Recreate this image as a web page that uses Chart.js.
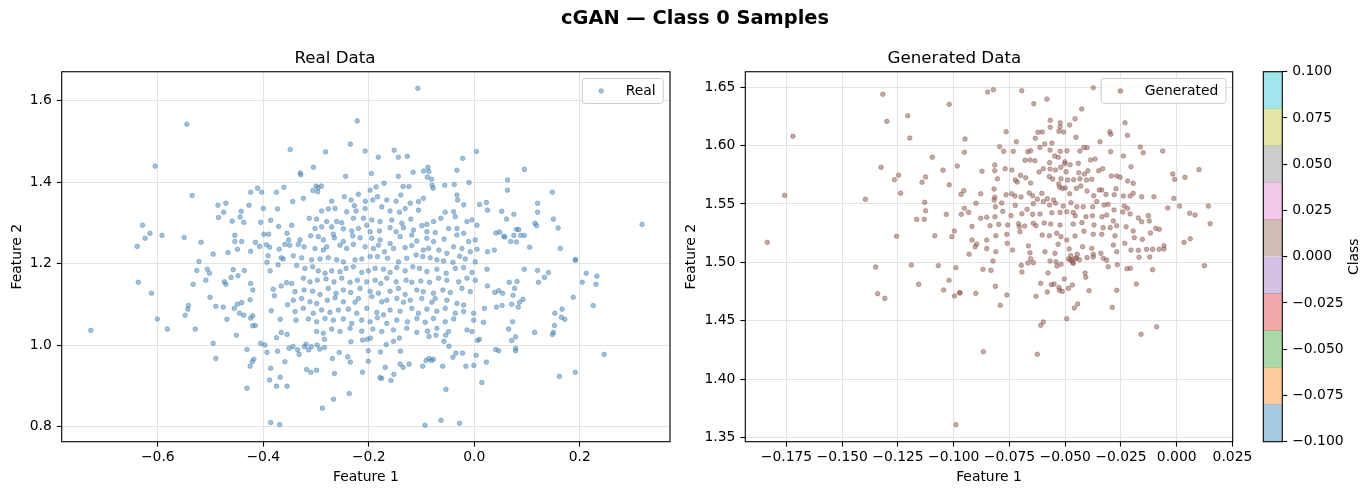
<!DOCTYPE html>
<html>
<head>
<meta charset="utf-8">
<script src="https://cdn.jsdelivr.net/npm/chart.js@4.4.1/dist/chart.umd.min.js"></script>
<style>
  html, body { margin: 0; padding: 0; background: #fff; }
  body { width: 1371px; height: 495px; position: relative; overflow: hidden; font-family: "DejaVu Sans", sans-serif; }
  canvas { position: absolute; top: 0; }
  #suptitle { position: absolute; left: 0; top: 6.3px; width: 1390px; text-align: center;
              font: bold 19.4px/24px "DejaVu Sans", sans-serif; color: #000; z-index: 2; }
</style>
</head>
<body>
<div id="suptitle">cGAN — Class 0 Samples</div>
<canvas id="real" width="676" height="495" style="left:0px"></canvas>
<canvas id="gen" width="580" height="495" style="left:676px"></canvas>
<canvas id="cbar" width="115" height="495" style="left:1256px"></canvas>
<script>
// ---- data ----
// Real Data panel: [Feature 1, Feature 2]
const realPoints = [
  // upper left
  [-0.545,1.542],[-0.605,1.439],[-0.222,1.550],[-0.349,1.480],[-0.282,1.474],[-0.235,1.493],[-0.207,1.476],
  [-0.535,1.367],[-0.330,1.422],[-0.329,1.418],[-0.305,1.436],[-0.244,1.414],[-0.300,1.390],[-0.296,1.386],
  [-0.306,1.379],[-0.297,1.376],[-0.290,1.390],[-0.361,1.387],[-0.375,1.375],[-0.411,1.385],[-0.403,1.375],
  [-0.424,1.375],[-0.486,1.343],[-0.471,1.348],[-0.475,1.326],[-0.485,1.313],[-0.459,1.304],[-0.444,1.314],
  [-0.442,1.328],[-0.437,1.301],[-0.427,1.343],[-0.405,1.301],[-0.400,1.335],[-0.386,1.306],[-0.373,1.334],
  [-0.629,1.294],[-0.615,1.274],[-0.624,1.262],[-0.639,1.242],[-0.592,1.269],[-0.550,1.264],[-0.518,1.252],
  [-0.495,1.223],[-0.467,1.227],[-0.454,1.269],[-0.454,1.254],[-0.441,1.254],[-0.449,1.235],[-0.415,1.252],
  [-0.424,1.230],[-0.407,1.242],[-0.399,1.272],[-0.390,1.272],[-0.394,1.246],[-0.388,1.240],[-0.371,1.291],
  [-0.355,1.274],[-0.352,1.258],[-0.359,1.247],[-0.350,1.245],[-0.370,1.235],[-0.391,1.219],[-0.366,1.214],
  // upper right
  [-0.107,1.630],[-0.182,1.461],[-0.152,1.478],[-0.144,1.461],[-0.127,1.463],[-0.022,1.458],[0.004,1.475],
  [-0.195,1.421],[-0.116,1.424],[-0.096,1.427],[-0.088,1.436],[-0.086,1.426],[-0.089,1.412],[-0.081,1.407],
  [-0.033,1.429],[-0.144,1.414],[-0.171,1.397],[-0.135,1.389],[-0.124,1.389],[-0.080,1.392],[-0.078,1.385],
  [-0.056,1.392],[-0.038,1.394],[-0.010,1.399],[0.095,1.431],[0.063,1.405],[0.063,1.380],[0.148,1.375],
  [0.318,1.296],[0.010,1.345],[0.023,1.350],[0.025,1.331],[0.052,1.328],[0.075,1.321],[0.061,1.309],
  [0.120,1.348],[0.120,1.326],[0.115,1.299],[0.118,1.293],[0.150,1.309],[0.159,1.287],[0.095,1.269],
  [0.080,1.284],[0.084,1.283],[0.075,1.269],[0.088,1.269],[0.080,1.253],[0.069,1.254],[0.041,1.275],
  [0.048,1.277],[0.056,1.267],[0.058,1.265],[0.163,1.237],[0.105,1.240],[0.192,1.210],[0.025,1.229],
  [0.038,1.233],[0.024,1.186],[0.025,1.145],
  // lower left
  [-0.727,1.036],[-0.637,1.154],[-0.612,1.127],[-0.601,1.064],[-0.582,1.039],[-0.548,1.073],[-0.543,1.088],
  [-0.542,1.097],[-0.529,1.039],[-0.533,1.149],[-0.526,1.183],[-0.522,1.205],[-0.509,1.159],[-0.506,1.186],
  [-0.502,1.176],[-0.501,1.117],[-0.490,1.095],[-0.476,1.093],[-0.469,1.063],[-0.451,1.024],[-0.495,1.004],
  [-0.490,0.967],[-0.474,1.155],[-0.471,1.149],[-0.461,1.166],[-0.457,1.185],[-0.448,1.170],[-0.436,1.183],
  [-0.455,1.090],[-0.449,1.100],[-0.441,1.104],[-0.445,1.078],[-0.437,1.073],[-0.425,1.111],[-0.424,1.151],
  [-0.420,1.135],[-0.420,1.072],[-0.424,1.066],[-0.420,1.047],[-0.415,1.048],[-0.431,0.989],[-0.421,0.959],
  [-0.425,0.948],[-0.418,0.965],[-0.431,0.894],[-0.405,1.004],[-0.397,1.000],[-0.393,0.982],[-0.386,0.943],
  [-0.388,0.914],[-0.375,0.899],[-0.373,0.985],[-0.368,0.921],[-0.355,0.899],[-0.386,0.810],[-0.369,0.805],
  [-0.366,1.031],[-0.355,1.026],[-0.359,0.959],[-0.375,1.018],[-0.351,0.992],[-0.344,0.996],[-0.335,0.988],
  [-0.332,0.977],[-0.322,0.996],[-0.319,1.002],[-0.314,0.988],[-0.318,0.940],[-0.310,0.933],[-0.299,0.938],
  [-0.309,0.996],[-0.298,1.000],[-0.293,0.990],[-0.284,0.994],[-0.284,1.014],[-0.256,0.982],[-0.265,0.930],
  [-0.269,0.967],[-0.240,0.971],[-0.235,0.958],[-0.237,0.881],[-0.267,0.867],[-0.288,0.845],[-0.212,0.933],
  [-0.201,0.960],[-0.201,0.986],[-0.234,1.008],[-0.212,1.012],[-0.203,1.014],
  [-0.387,1.182],[-0.381,1.137],[-0.366,1.145],[-0.356,1.153],[-0.393,1.203],[-0.372,1.197],[-0.362,1.211],
  [-0.385,1.084],[-0.368,1.063],[-0.354,1.099],[-0.379,1.121],
  // lower right
  [0.1915,1.208],[0.2123,1.176],[0.2325,1.169],[0.2306,1.149],[0.2047,1.154],[0.1877,1.117],[0.2255,1.097],
  [0.1715,1.063],[0.1651,1.068],[0.1526,1.078],[0.1664,1.088],[0.1519,1.048],[0.1481,1.026],[0.150,1.031],
  [0.1142,1.031],[0.2462,0.977],[0.1915,0.933],[0.1613,0.923],[0.1406,1.178],[0.133,1.166],[0.1217,1.154],
  [0.1198,1.183],[0.0947,1.186],[0.081,1.156],[0.0764,1.139],[0.0664,1.154],[0.0462,1.133],[0.0538,1.127],
  [0.0387,1.129],[0.0419,1.093],[0.0526,1.097],[0.0708,1.100],[0.0734,1.122],[0.0859,1.105],[0.0923,1.112],
  [0.0834,1.093],[0.0726,1.057],[0.0651,1.039],[0.0783,1.020],[0.0708,1.011],[0.0783,0.992],[0.0783,0.986],
  [0.0406,0.989],[0.0462,0.986],[0.0192,1.090],[0.0174,1.056],[0.006,1.011],[0.0098,1.014],[0.0036,0.975],
  [-0.0009,0.950],[0.023,0.958],[0.0142,0.908],[-0.0279,0.808],[-0.0632,0.815],[-0.0934,0.803],[-0.0538,0.891],
  [-0.0858,0.967],[-0.0813,0.962],[-0.0915,0.962],[-0.0776,0.965],[-0.060,0.948],[-0.0977,0.948],[-0.1236,0.953],
  [-0.1406,0.953],[-0.1349,0.945],[-0.1525,0.928],[-0.1581,0.913],[-0.1789,0.920],[-0.1757,0.918],[-0.1689,0.945],
  [-0.0406,0.970],[-0.0349,0.980],[-0.0223,0.980],[-0.016,0.948],[-0.0575,1.009],[-0.0543,1.024],[-0.0481,0.997],
  [-0.0858,1.021],[-0.0726,1.024],[-0.167,1.001],[-0.153,1.009],[-0.178,0.983],[-0.140,0.985],[-0.197,1.017],
  [-0.142,1.017],
  // dense core
  [-0.1975,1.380],[-0.1861,1.388],
  [-0.3443,1.352],[-0.3241,1.360],[-0.2704,1.353],[-0.2463,1.364],[-0.2336,1.356],[-0.2197,1.370],[-0.2064,1.353],
  [-0.1925,1.356],[-0.1836,1.364],[-0.1659,1.356],[-0.1482,1.353],[-0.1393,1.368],[-0.1216,1.348],[-0.1058,1.352],
  [-0.0966,1.360],[-0.0329,1.368],[-0.0316,1.356],
  [-0.2894,1.329],[-0.2767,1.334],[-0.2640,1.335],[-0.2419,1.327],[-0.2273,1.342],[-0.2241,1.329],[-0.2070,1.335],
  [-0.1754,1.339],[-0.1596,1.329],[-0.1419,1.326],[-0.1311,1.335],[-0.1058,1.331],[-0.0551,1.326],[-0.0392,1.327],
  [-0.0202,1.344],
  [-0.3128,1.311],[-0.2989,1.309],[-0.2799,1.303],[-0.2609,1.303],[-0.2514,1.300],[-0.2292,1.311],[-0.2102,1.311],
  [-0.1944,1.307],[-0.1786,1.303],[-0.1564,1.307],[-0.1374,1.299],[-0.1204,1.309],[-0.0995,1.293],[-0.0899,1.296],
  [-0.0773,1.303],[-0.0634,1.311],[-0.0361,1.315],[-0.0139,1.303],[-0.0044,1.307],
  [-0.3462,1.294],[-0.3020,1.286],[-0.2894,1.290],[-0.2704,1.290],[-0.2672,1.272],[-0.2482,1.285],[-0.2324,1.280],
  [-0.2197,1.286],[-0.2039,1.294],[-0.1975,1.278],[-0.1798,1.280],[-0.1596,1.288],[-0.1482,1.278],[-0.1343,1.288],
  [-0.1153,1.282],[-0.0899,1.278],[-0.0741,1.276],[-0.0488,1.286],[-0.0329,1.286],[-0.0202,1.274],[0.0051,1.294],
  [-0.3304,1.258],[-0.3102,1.268],[-0.2957,1.266],[-0.2862,1.258],[-0.2653,1.263],[-0.2482,1.254],[-0.2305,1.268],
  [-0.2165,1.263],[-0.1944,1.262],[-0.1786,1.258],[-0.1596,1.249],[-0.1406,1.266],[-0.1185,1.270],[-0.1090,1.255],
  [-0.0899,1.262],[-0.0773,1.254],[-0.0570,1.260],[-0.0329,1.270],[-0.0107,1.254],[0.0019,1.258],
  [-0.3336,1.247],[-0.3228,1.241],[-0.3020,1.237],[-0.2862,1.233],[-0.2799,1.241],[-0.2545,1.245],[-0.2419,1.237],
  [-0.2292,1.247],[-0.2070,1.241],[-0.1912,1.237],[-0.1817,1.245],[-0.1703,1.229],[-0.1532,1.237],[-0.1311,1.239],
  [-0.1185,1.244],[-0.0966,1.233],[-0.0868,1.237],[-0.0672,1.233],[-0.0520,1.225],[-0.0392,1.241],[-0.0234,1.237],
  [-0.0076,1.229],[0.0051,1.235],
  [-0.3431,1.219],[-0.3273,1.214],[-0.3084,1.209],[-0.2925,1.211],[-0.2767,1.214],[-0.2609,1.209],[-0.2482,1.204],
  [-0.2260,1.209],[-0.2134,1.211],[-0.1975,1.217],[-0.1836,1.217],[-0.1646,1.213],[-0.1438,1.204],[-0.1280,1.213],
  [-0.1103,1.221],[-0.0976,1.217],[-0.0836,1.214],[-0.0710,1.209],[-0.0583,1.206],[-0.0405,1.203],[-0.0278,1.218],
  [-0.0171,1.211],[0.0019,1.204],
  [-0.3368,1.195],[-0.3210,1.188],[-0.3065,1.192],[-0.2957,1.182],[-0.2830,1.176],[-0.2704,1.182],[-0.2545,1.180],
  [-0.2431,1.188],[-0.2292,1.192],[-0.2134,1.178],[-0.2007,1.182],[-0.1880,1.188],[-0.1722,1.186],[-0.1596,1.178],
  [-0.1469,1.190],[-0.1311,1.182],[-0.1166,1.192],[-0.1039,1.188],[-0.0899,1.180],[-0.0710,1.186],[-0.0532,1.176],
  [-0.0361,1.188],[-0.0202,1.190],[-0.0044,1.178],
  [-0.3462,1.151],[-0.3241,1.164],[-0.3115,1.155],[-0.2976,1.159],[-0.2811,1.162],[-0.2659,1.155],[-0.2514,1.164],
  [-0.2355,1.154],[-0.2216,1.159],[-0.2039,1.155],[-0.1880,1.159],[-0.1773,1.151],[-0.1659,1.164],[-0.1482,1.155],
  [-0.1292,1.159],[-0.1185,1.154],[-0.1014,1.157],[-0.0849,1.154],[-0.0678,1.164],[-0.0520,1.159],[-0.0297,1.155],
  [-0.0139,1.164],[0.0019,1.159],
  [-0.3399,1.131],[-0.3228,1.135],[-0.3065,1.132],[-0.2925,1.124],[-0.2767,1.139],[-0.2621,1.127],[-0.2482,1.135],
  [-0.2343,1.129],[-0.2165,1.139],[-0.1975,1.132],[-0.1817,1.127],[-0.1596,1.132],[-0.1438,1.139],[-0.1311,1.124],
  [-0.1090,1.135],[-0.0966,1.131],[-0.0773,1.127],[-0.0596,1.135],[-0.0456,1.129],[-0.0234,1.139],[-0.0076,1.131],
  [-0.3431,1.110],[-0.3273,1.114],[-0.3115,1.106],[-0.2989,1.102],[-0.2786,1.110],[-0.2640,1.116],[-0.2482,1.106],
  [-0.2260,1.105],[-0.2197,1.114],[-0.1944,1.119],[-0.1754,1.106],[-0.1659,1.110],[-0.1469,1.114],[-0.1343,1.105],
  [-0.1216,1.110],[-0.0995,1.114],[-0.0805,1.105],[-0.0741,1.114],[-0.0520,1.110],[-0.0329,1.102],[-0.0202,1.098],
  [-0.3399,1.082],[-0.3241,1.090],[-0.3052,1.078],[-0.2894,1.086],[-0.2735,1.080],[-0.2577,1.086],[-0.2387,1.088],
  [-0.2229,1.078],[-0.2039,1.090],[-0.1849,1.080],[-0.1722,1.074],[-0.1596,1.086],[-0.1406,1.083],[-0.1185,1.090],
  [-0.1058,1.078],[-0.0899,1.088],[-0.0710,1.083],[-0.0551,1.090],[-0.0361,1.078],[-0.0202,1.082],[-0.0013,1.078],
  [-0.3380,1.061],[-0.3146,1.064],[-0.2989,1.057],[-0.2830,1.065],[-0.2672,1.061],[-0.2482,1.064],[-0.2324,1.053],
  [-0.2134,1.061],[-0.1975,1.057],[-0.1836,1.067],[-0.1659,1.053],[-0.1469,1.061],[-0.1267,1.057],[-0.1090,1.065],
  [-0.0931,1.056],[-0.0773,1.065],[-0.0551,1.057],[-0.0392,1.064],[-0.0013,1.061],
  [-0.2989,1.033],[-0.2862,1.029],[-0.2704,1.039],[-0.2545,1.033],[-0.2355,1.041],[-0.2134,1.034],[-0.1925,1.039],
  [-0.1754,1.033],[-0.1532,1.037],[-0.1280,1.041],[-0.1090,1.031],[-0.0887,1.034],[-0.0710,1.041],[-0.0488,1.033],
  [-0.0139,1.037],[-0.0044,1.033]
];

// Generated Data panel: [Feature 1, Feature 2]
const genPoints = [
  [-0.1836,1.5171],[-0.1758,1.5574],[-0.1721,1.6080],[-0.1396,1.5540],[-0.1326,1.5814],[-0.1318,1.6440],
  [-0.1300,1.6208],[-0.1206,1.6256],[-0.1197,1.6065],[-0.1266,1.5708],[-0.1247,1.5746],[-0.1238,1.5592],
  [-0.1256,1.5223],[-0.1166,1.5368],[-0.1132,1.5368],[-0.1130,1.5514],[-0.1126,1.5442],[-0.1142,1.5686],
  [-0.1126,1.5731],[-0.1096,1.5900],[-0.1085,1.5228],[-0.1048,1.5790],[-0.1033,1.5411],[-0.1020,1.6354],
  [-0.1020,1.5665],[-0.1008,1.5220],[-0.0997,1.5268],[-0.0984,1.5825],[-0.0966,1.5411],[-0.0967,1.5582],
  [-0.0955,1.5614],[-0.0952,1.5943],[-0.0949,1.6057],[-0.0952,1.5463],
  [-0.0848,1.6459],[-0.0822,1.6479],[-0.0695,1.6471],[-0.0374,1.6496],[-0.0248,1.6468],[-0.0641,1.6359],
  [-0.0582,1.6399],[-0.0426,1.6314],[-0.0567,1.6217],[-0.0567,1.6157],[-0.0522,1.6196],[-0.0480,1.6177],
  [-0.0456,1.6231],[-0.0765,1.6119],[-0.0719,1.6033],[-0.0622,1.6114],[-0.0603,1.6117],[-0.0634,1.6063],
  [-0.0613,1.5985],[-0.0592,1.6014],[-0.0560,1.6022],[-0.0568,1.5962],[-0.0522,1.5951],[-0.0492,1.5956],
  [-0.0528,1.6123],[-0.0507,1.6117],[-0.0452,1.6071],[-0.0523,1.6159],[-0.0733,1.5951],[-0.0794,1.5991],
  [-0.0776,1.5951],[-0.0668,1.5948],[-0.0655,1.5956],[-0.0680,1.5874],[-0.0658,1.5877],[-0.0636,1.5871],
  [-0.0570,1.5854],[-0.0547,1.5911],[-0.0531,1.5900],[-0.0501,1.5862],[-0.0478,1.5836],[-0.0441,1.5848],
  [-0.0434,1.5954],[-0.0416,1.5985],[-0.0402,1.5982],[-0.0386,1.5877],[-0.0366,1.5885],[-0.0344,1.6033],
  [-0.0300,1.6119],[-0.0296,1.6097],[-0.0221,1.6088],[-0.0232,1.6196],[-0.0296,1.5948],[-0.0239,1.5911],
  [-0.0205,1.5819],[-0.0163,1.5988],[-0.0150,1.5939],[-0.0063,1.5954],[-0.0018,1.5757],[-0.0009,1.5711],
  [0.0037,1.5728],[0.0100,1.5794],[-0.0873,1.5780],[-0.0816,1.5834],[-0.0816,1.5785],[-0.0769,1.5802],
  [-0.0739,1.5791],[-0.0804,1.5716],[-0.0724,1.5705],[-0.0715,1.5688],[-0.0700,1.5745],[-0.0677,1.5725],
  [-0.0655,1.5680],[-0.0617,1.5774],[-0.0598,1.5802],[-0.0568,1.5800],[-0.0544,1.5791],[-0.0520,1.5814],
  [-0.0502,1.5845],[-0.0496,1.5776],[-0.0571,1.5734],[-0.0556,1.5714],[-0.0529,1.5671],[-0.0519,1.5716],
  [-0.0489,1.5705],[-0.0462,1.5708],[-0.0439,1.5768],[-0.0414,1.5757],[-0.0398,1.5785],[-0.0434,1.5716],
  [-0.0404,1.5705],[-0.0381,1.5711],[-0.0350,1.5785],[-0.0332,1.5802],[-0.0293,1.5740],[-0.0269,1.5740],
  [-0.0254,1.5728],[-0.0220,1.5697],[-0.0195,1.5677],[-0.0879,1.5588],[-0.0819,1.5628],[-0.0816,1.5557],
  [-0.0819,1.5534],[-0.0765,1.5579],[-0.0740,1.5588],[-0.0725,1.5568],[-0.0698,1.5560],[-0.0661,1.5594],
  [-0.0646,1.5571],[-0.0625,1.5540],[-0.0605,1.5591],[-0.0580,1.5545],[-0.0552,1.5534],[-0.0525,1.5643],
  [-0.0513,1.5634],[-0.0500,1.5637],[-0.0480,1.5588],[-0.0450,1.5634],[-0.0430,1.5654],[-0.0402,1.5611],
  [-0.0372,1.5571],[-0.0347,1.5620],[-0.0336,1.5620],[-0.0317,1.5582],[-0.0280,1.5579],[-0.0272,1.5631],
  [-0.0239,1.5568],[-0.0209,1.5568],[-0.0195,1.5591],[-0.0157,1.5562],[-0.0102,1.5562],[-0.0013,1.5548],
  [0.0013,1.5482],[0.0142,1.5482],[0.0150,1.5331],[0.0058,1.5420],[0.0082,1.5405],[-0.0040,1.5465],
  [-0.0900,1.5506],[-0.0785,1.5508],[-0.0813,1.5476],[-0.0724,1.5488],[-0.0671,1.5454],[-0.0643,1.5502],
  [-0.0598,1.5520],[-0.0570,1.5491],[-0.0543,1.5506],[-0.0509,1.5482],[-0.0474,1.5511],[-0.0448,1.5476],
  [-0.0419,1.5476],[-0.0377,1.5476],[-0.0359,1.5520],[-0.0326,1.5491],[-0.0308,1.5497],[-0.0281,1.5448],
  [-0.0235,1.5482],[-0.0221,1.5463],[-0.0933,1.5428],[-0.0879,1.5377],[-0.0852,1.5386],[-0.0815,1.5391],
  [-0.0780,1.5437],[-0.0743,1.5400],[-0.0694,1.5416],[-0.0646,1.5411],[-0.0613,1.5414],[-0.0560,1.5425],
  [-0.0523,1.5428],[-0.0493,1.5434],[-0.0464,1.5428],[-0.0455,1.5399],[-0.0407,1.5391],[-0.0378,1.5399],
  [-0.0335,1.5391],[-0.0314,1.5405],[-0.0284,1.5354],[-0.0242,1.5431],[-0.0209,1.5414],[-0.0172,1.5380],
  [-0.0127,1.5400],[-0.0918,1.5308],[-0.0837,1.5314],[-0.0798,1.5325],[-0.0758,1.5320],[-0.0709,1.5331],
  [-0.0682,1.5311],[-0.0643,1.5334],[-0.0631,1.5314],[-0.0594,1.5337],[-0.0565,1.5328],[-0.0523,1.5320],
  [-0.0464,1.5328],[-0.0425,1.5340],[-0.0371,1.5320],[-0.0330,1.5297],[-0.0298,1.5297],[-0.0269,1.5314],
  [-0.0227,1.5305],[-0.0195,1.5268],[-0.0157,1.5348],[-0.0123,1.5354],[-0.0094,1.5291],[-0.0078,1.5283],
  [-0.0918,1.5191],[-0.0904,1.5134],[-0.0852,1.5191],[-0.0811,1.5228],[-0.0762,1.5240],[-0.0703,1.5262],
  [-0.0706,1.5305],[-0.0603,1.5234],[-0.0571,1.5228],[-0.0538,1.5249],[-0.0519,1.5220],[-0.0493,1.5191],
  [-0.0456,1.5225],[-0.0416,1.5266],[-0.0374,1.5240],[-0.0336,1.5240],[-0.0277,1.5228],[-0.0233,1.5163],
  [-0.0190,1.5211],[-0.0154,1.5197],[-0.0118,1.5251],[-0.0057,1.5142],[0.0033,1.5171],[0.0061,1.5202],
  [-0.0931,1.5069],[-0.0897,1.5157],[-0.0852,1.5117],[-0.0811,1.5091],[-0.0760,1.5163],[-0.0736,1.5105],
  [-0.0665,1.5140],[-0.0658,1.5082],[-0.0591,1.5091],[-0.0546,1.5077],[-0.0532,1.5154],[-0.0482,1.5114],
  [-0.0475,1.5057],[-0.0446,1.5069],[-0.0422,1.5134],[-0.0381,1.5120],[-0.0374,1.5069],[-0.0340,1.5077],
  [-0.0284,1.5148],[-0.0269,1.5091],[-0.0205,1.5105],[-0.0172,1.5103],[-0.0135,1.5111],[-0.0108,1.5111],
  [-0.0079,1.5111],[-0.0057,1.5114],
  [-0.0869,1.4940],[-0.0833,1.4931],[-0.0824,1.5011],[-0.0813,1.4794],[-0.0901,1.4734],[-0.0972,1.4737],
  [-0.0762,1.4720],[-0.0791,1.4632],[-0.0867,1.4234],[-0.0697,1.4974],[-0.0694,1.4917],[-0.0667,1.4994],
  [-0.0655,1.5031],[-0.0643,1.4997],[-0.0631,1.4709],[-0.0610,1.4820],[-0.0580,1.4745],[-0.0577,1.4908],
  [-0.0568,1.5011],[-0.0562,1.4808],[-0.0550,1.4814],[-0.0541,1.5005],[-0.0537,1.4968],[-0.0528,1.4786],
  [-0.0526,1.4760],[-0.0513,1.4751],[-0.0519,1.4983],[-0.0504,1.4857],[-0.0486,1.4777],[-0.0468,1.4806],
  [-0.0493,1.4517],[-0.0598,1.4489],[-0.0610,1.4460],[-0.0625,1.4212],[-0.0459,1.4609],[-0.0444,1.4643],
  [-0.0411,1.4908],[-0.0408,1.4872],[-0.0393,1.4757],[-0.0464,1.4991],[-0.0470,1.5017],[-0.0402,1.5040],
  [-0.0374,1.5045],[-0.0329,1.5034],[-0.0314,1.5019],[-0.0307,1.4962],[-0.0266,1.4980],[-0.0269,1.4760],
  [-0.0289,1.4614],[-0.0223,1.4945],[-0.0208,1.4949],[-0.0181,1.4814],[-0.0169,1.5043],[-0.0121,1.5045],
  [-0.0108,1.4937],[-0.0160,1.4383],[-0.0090,1.4448],[0.0124,1.4971],[-0.0485,1.5030],[-0.0478,1.5020],
  [-0.0456,1.5032],[-0.0448,1.5036],[-0.0436,1.5022],[-0.0466,1.4998],
  [-0.1350,1.4960],[-0.1341,1.4731],[-0.1309,1.4691],[-0.1190,1.4977],[-0.1157,1.4811],[-0.1069,1.4971],
  [-0.1045,1.4763],[-0.1021,1.4846],[-0.0990,1.4954],[-0.0996,1.4711],[-0.0973,1.4740],[-0.0990,1.3608]
];

// axis ticks
const realXTicks = [-0.6, -0.4, -0.2, 0.0, 0.2];
const realYTicks = [0.8, 1.0, 1.2, 1.4, 1.6];
const genXTicks = [-0.175, -0.15, -0.125, -0.1, -0.075, -0.05, -0.025, 0.0, 0.025];
const genYTicks = [1.35, 1.40, 1.45, 1.50, 1.55, 1.60, 1.65];

// colorbar: class band edges and ticks
const classEdges = [-0.1, -0.08, -0.06, -0.04, -0.02, 0.0, 0.02, 0.04, 0.06, 0.08, 0.1];
const classTicks = [-0.1, -0.075, -0.05, -0.025, 0.0, 0.025, 0.05, 0.075, 0.1];

// tab10 palette (alpha 0.4 in the colorbar)
const tab10 = [[31,119,180],[255,127,14],[44,160,44],[214,39,40],[148,103,189],
               [140,86,75],[227,119,194],[127,127,127],[188,189,34],[23,190,207]];

// ---- shared bits ----
Chart.defaults.font.family = '"DejaVu Sans", sans-serif';
Chart.defaults.color = '#000';

const GRID = '#e3e3e3';
const FS = 13.9;

const fmt = (v, d) => (v < -1e-9 ? '\u2212' : '') + Math.abs(v).toFixed(d);
const fixTicks = vals => scale => { scale.ticks = vals.map(v => ({ value: v })); };

// full box around the plot area, like matplotlib spines
const framePlugin = {
  id: 'frame',
  afterDatasetsDraw(chart) {
    const { ctx, chartArea: a } = chart;
    ctx.save();
    ctx.strokeStyle = '#000';
    ctx.lineWidth = 1.1;
    ctx.strokeRect(a.left, a.top, a.right - a.left, a.bottom - a.top);
    ctx.restore();
  }
};

// legend drawn inside the upper right corner of the plot area
const innerLegend = {
  id: 'innerLegend',
  afterDraw(chart) {
    const { ctx, chartArea: a } = chart;
    const ds = chart.data.datasets[0];
    ctx.save();
    ctx.font = FS + 'px "DejaVu Sans"';
    const w = 44.6 + ctx.measureText(ds.label).width + 6.5;
    const h = 25;
    const x = a.right - 6.7 - w;
    const y = a.top + 6.7;
    const r = 2.8;
    ctx.beginPath();
    ctx.moveTo(x + r, y);
    ctx.arcTo(x + w, y, x + w, y + h, r);
    ctx.arcTo(x + w, y + h, x, y + h, r);
    ctx.arcTo(x, y + h, x, y, r);
    ctx.arcTo(x, y, x + w, y, r);
    ctx.closePath();
    ctx.fillStyle = 'rgba(255,255,255,0.8)';
    ctx.fill();
    ctx.strokeStyle = '#cccccc';
    ctx.lineWidth = 1;
    ctx.stroke();

    ctx.beginPath();
    ctx.arc(x + 19, y + h / 2, ds.pointRadius, 0, Math.PI * 2);
    ctx.fillStyle = ds.backgroundColor;
    ctx.fill();
    ctx.strokeStyle = ds.borderColor;
    ctx.lineWidth = ds.borderWidth;
    ctx.stroke();

    ctx.fillStyle = '#000';
    ctx.textBaseline = 'middle';
    ctx.fillText(ds.label, x + 43.5, y + h / 2 + 0.5);
    ctx.restore();
  }
};

// vertical label read bottom-to-top (colorbar "Class")
const sideLabel = {
  id: 'sideLabel',
  afterDraw(chart) {
    const opts = chart.options.plugins.sideLabel;
    if (!opts || !opts.text) return;
    const { ctx, chartArea: a } = chart;
    ctx.save();
    ctx.translate(opts.x, (a.top + a.bottom) / 2);
    ctx.rotate(-Math.PI / 2);
    ctx.font = FS + 'px "DejaVu Sans"';
    ctx.fillStyle = '#000';
    ctx.textAlign = 'center';
    ctx.textBaseline = 'middle';
    ctx.fillText(opts.text, 0, 0);
    ctx.restore();
  }
};

const tickGrid = { color: GRID, lineWidth: 1, tickColor: '#000', tickLength: 4.9, tickWidth: 1.1 };

function scatterPanel(id, cfg) {
  return new Chart(document.getElementById(id), {
    type: 'scatter',
    data: {
      datasets: [{
        label: cfg.label,
        data: cfg.points.map(p => ({ x: p[0], y: p[1] })),
        backgroundColor: cfg.color,
        borderColor: cfg.color,
        borderWidth: 0.9,
        pointRadius: 2.3
      }]
    },
    options: {
      responsive: false,
      animation: false,
      events: [],
      layout: { padding: cfg.pad },
      plugins: {
        legend: { display: false },
        tooltip: { enabled: false },
        title: {
          display: true, text: cfg.title, color: '#000',
          font: { size: 16.7, weight: 'normal' },
          padding: { top: 0, bottom: 3.4 }
        }
      },
      scales: {
        x: {
          type: 'linear', min: cfg.xMin, max: cfg.xMax,
          afterBuildTicks: fixTicks(cfg.xTicks),
          afterFit: s => { s.height = 53.3; s.paddingLeft = 0; s.paddingRight = 0; },
          grid: tickGrid,
          border: { display: false },
          ticks: { font: { size: FS }, padding: 2.6, maxRotation: 0, autoSkip: false,
                   callback: v => fmt(v, cfg.xDec) },
          title: { display: true, text: 'Feature 1', font: { size: FS }, padding: { top: 0, bottom: 9.2 } }
        },
        y: {
          type: 'linear', min: cfg.yMin, max: cfg.yMax,
          afterBuildTicks: fixTicks(cfg.yTicks),
          afterFit: s => { s.width = cfg.yWidth; },
          grid: tickGrid,
          border: { display: false },
          ticks: { font: { size: FS }, padding: 5, autoSkip: false,
                   callback: v => fmt(v, cfg.yDec) },
          title: { display: true, text: 'Feature 2', font: { size: FS }, padding: { top: cfg.yTitlePad, bottom: 0 } }
        }
      }
    },
    plugins: [framePlugin, innerLegend]
  });
}

scatterPanel('real', {
  title: 'Real Data', label: 'Real', points: realPoints,
  color: 'rgba(70,130,180,0.5)',
  xMin: -0.7822, xMax: 0.3710, yMin: 0.7627, yMax: 1.6707,
  xTicks: realXTicks, yTicks: realYTicks, xDec: 1, yDec: 1,
  pad: { left: 0, top: 48.3, right: 6, bottom: 0 }, yWidth: 61.7, yTitlePad: 9.2
});

scatterPanel('gen', {
  title: 'Generated Data', label: 'Generated', points: genPoints,
  color: 'rgba(140,86,75,0.5)',
  xMin: -0.19345, xMax: 0.02511, yMin: 1.34627, yMax: 1.66333,
  xTicks: genXTicks, yTicks: genYTicks, xDec: 3, yDec: 2,
  pad: { left: 0, top: 48.3, right: 23.3, bottom: 0 }, yWidth: 69.3, yTitlePad: 6.7
});

// colorbar as floating bars, one per class band
new Chart(document.getElementById('cbar'), {
  type: 'bar',
  data: {
    labels: ['Class'],
    datasets: classEdges.slice(0, -1).map((lo, i) => ({
      data: [[lo, classEdges[i + 1]]],
      backgroundColor: 'rgba(' + tab10[i].join(',') + ',0.4)',
      borderWidth: 0,
      grouped: false,
      barPercentage: 1,
      categoryPercentage: 1
    }))
  },
  options: {
    responsive: false,
    animation: false,
    events: [],
    layout: { padding: { left: 7.3, top: 71.7, right: 0, bottom: 53.3 } },
    plugins: {
      legend: { display: false },
      tooltip: { enabled: false },
      sideLabel: { text: 'Class', x: 98 }
    },
    scales: {
      x: { display: false },
      y: {
        position: 'right', min: -0.1, max: 0.1,
        afterBuildTicks: fixTicks(classTicks),
        afterFit: s => { s.width = 88.7; },
        grid: { drawOnChartArea: false, tickColor: '#000', tickLength: 4.9, tickWidth: 1.1 },
        border: { display: false },
        ticks: { font: { size: FS }, padding: 5, autoSkip: false, callback: v => fmt(v, 3) }
      }
    }
  },
  plugins: [framePlugin, sideLabel]
});
</script>
</body>
</html>
